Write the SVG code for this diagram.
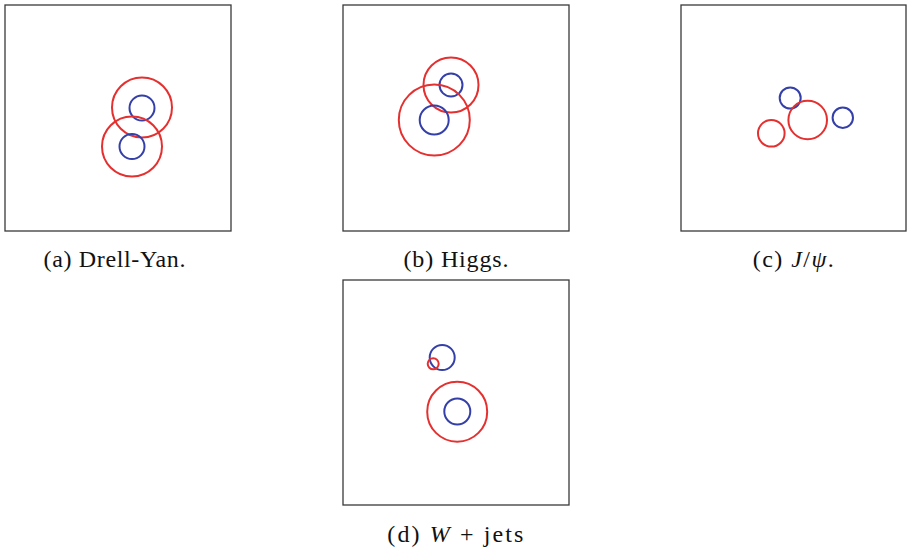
<svg xmlns="http://www.w3.org/2000/svg" width="907" height="550" viewBox="0 0 907 550">
<style>
.frame{fill:#fff;stroke:#3a3a3a;stroke-width:1.3}
.r{fill:none;stroke:#e53030;stroke-width:2}
.b{fill:none;stroke:#3440a8;stroke-width:2}
.cap{font-family:"Liberation Serif","DejaVu Serif",serif;font-size:24px;fill:#111;text-anchor:middle}
.it{font-style:italic}
</style>
<rect width="907" height="550" fill="#fff"/>
<g id="panel-a">
<rect class="frame" x="5" y="5" width="226" height="226"/>
<circle class="r" cx="142" cy="107.5" r="30"/>
<circle class="b" cx="142" cy="108" r="12.5"/>
<circle class="r" cx="132" cy="146.5" r="30"/>
<circle class="b" cx="132" cy="146.5" r="12.5"/>
<text class="cap" x="114.5" y="266.5" textLength="142">(a) Drell-Yan.</text>
</g>
<g id="panel-b">
<rect class="frame" x="343" y="5" width="226" height="226"/>
<circle class="r" cx="451" cy="85" r="27.5"/>
<circle class="b" cx="451" cy="85" r="11.5"/>
<circle class="r" cx="434.3" cy="120" r="35.5"/>
<circle class="b" cx="434.2" cy="120" r="14.5"/>
<text class="cap" x="456" y="266.5" textLength="105">(b) Higgs.</text>
</g>
<g id="panel-c">
<rect class="frame" x="681" y="5" width="225" height="226"/>
<circle class="b" cx="790.2" cy="98" r="10.5"/>
<circle class="r" cx="807.7" cy="120" r="19.3"/>
<circle class="b" cx="842.8" cy="117.7" r="10.2"/>
<circle class="r" cx="771.3" cy="133.3" r="13.3"/>
<text class="cap" x="793.3" y="266.5" textLength="81">(c) <tspan class="it">J</tspan>/<tspan class="it">ψ</tspan>.</text>
</g>
<g id="panel-d">
<rect class="frame" x="343" y="280" width="226" height="225"/>
<circle class="b" cx="442.2" cy="357.5" r="12.5"/>
<circle class="r" cx="433.2" cy="363.8" r="5.5"/>
<circle class="r" cx="457.2" cy="411.7" r="30"/>
<circle class="b" cx="457.3" cy="411.5" r="13"/>
<text class="cap" x="455.3" y="541.5" textLength="136">(d) <tspan class="it">W</tspan> + jets</text>
</g>
<g id="connectors"></g>
</svg>
